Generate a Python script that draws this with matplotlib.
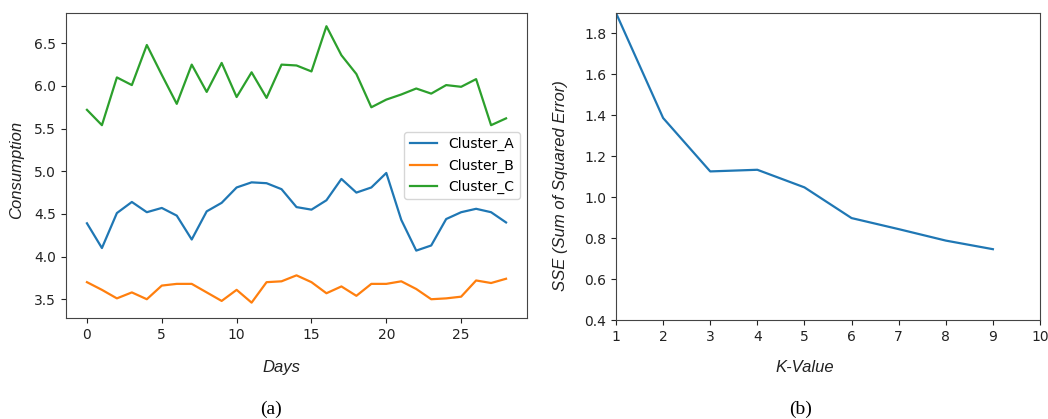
import matplotlib.pyplot as plt

# daily consumption per cluster (days 0..28)
days = list(range(29))
cluster_a = [4.39, 4.10, 4.51, 4.64, 4.52, 4.57, 4.48, 4.20, 4.53, 4.63,
             4.81, 4.87, 4.86, 4.79, 4.58, 4.55, 4.66, 4.91, 4.75, 4.81,
             4.98, 4.43, 4.07, 4.13, 4.44, 4.52, 4.56, 4.52, 4.40]
cluster_b = [3.70, 3.61, 3.51, 3.58, 3.50, 3.66, 3.68, 3.68, 3.58, 3.48,
             3.61, 3.46, 3.70, 3.71, 3.78, 3.70, 3.57, 3.65, 3.54, 3.68,
             3.68, 3.71, 3.62, 3.50, 3.51, 3.53, 3.72, 3.69, 3.74]
cluster_c = [5.72, 5.54, 6.10, 6.01, 6.48, 6.13, 5.79, 6.25, 5.93, 6.27,
             5.87, 6.16, 5.86, 6.25, 6.24, 6.17, 6.70, 6.36, 6.14, 5.75,
             5.84, 5.90, 5.97, 5.91, 6.01, 5.99, 6.08, 5.54, 5.62]

# elbow curve
k_values = [1, 2, 3, 4, 5, 6, 7, 8, 9]
sse = [1.90, 1.387, 1.126, 1.134, 1.048, 0.898, 0.844, 0.788, 0.746]

fig = plt.figure(figsize=(10.48, 4.19), dpi=100)
ax1 = fig.add_axes([66/1048, 101/419, 461/1048, 305/419])
ax2 = fig.add_axes([616/1048, 99/419, 424/1048, 307/419])

ax1.plot(days, cluster_a, color='#1f77b4', lw=1.6, label='Cluster_A')
ax1.plot(days, cluster_b, color='#ff7f0e', lw=1.6, label='Cluster_B')
ax1.plot(days, cluster_c, color='#2ca02c', lw=1.6, label='Cluster_C')
ax1.set_xlim(-1.4, 29.4)
ax1.set_ylim(3.28, 6.855)
ax1.set_xticks([0, 5, 10, 15, 20, 25])
ax1.set_yticks([3.5, 4.0, 4.5, 5.0, 5.5, 6.0, 6.5])
ax1.legend(loc='center right', fontsize=10, handlelength=2.0)

ax2.plot(k_values, sse, color='#1f77b4', lw=1.6)
ax2.set_xlim(1, 10)
ax2.set_ylim(0.4, 1.9)
ax2.set_xticks(range(1, 11))
ax2.set_yticks([0.4, 0.6, 0.8, 1.0, 1.2, 1.4, 1.6, 1.8])

for ax in (ax1, ax2):
    for sp in ax.spines.values():
        sp.set_color('#444444')
    ax.tick_params(labelsize=10, colors='#222222')

lab = dict(family='Liberation Sans', style='italic', fontsize=12, color='#222222')
fig.text(17/1048, 1 - 170/419, 'Consumption', rotation=90, ha='center', va='center', **lab)
fig.text(281/1048, 1 - 367/419, 'Days', ha='center', va='center', **lab)
fig.text(560/1048, 1 - 186/419, 'SSE (Sum of Squared Error)', rotation=90, ha='center', va='center', **lab)
fig.text(805/1048, 1 - 367/419, 'K-Value', ha='center', va='center', **lab)

cap = dict(family='Liberation Serif', fontsize=14, ha='center', va='center')
fig.text(271/1048, 1 - 409/419, '(a)', **cap)
fig.text(801/1048, 1 - 409/419, '(b)', **cap)

fig.savefig('out.png', dpi=100)
